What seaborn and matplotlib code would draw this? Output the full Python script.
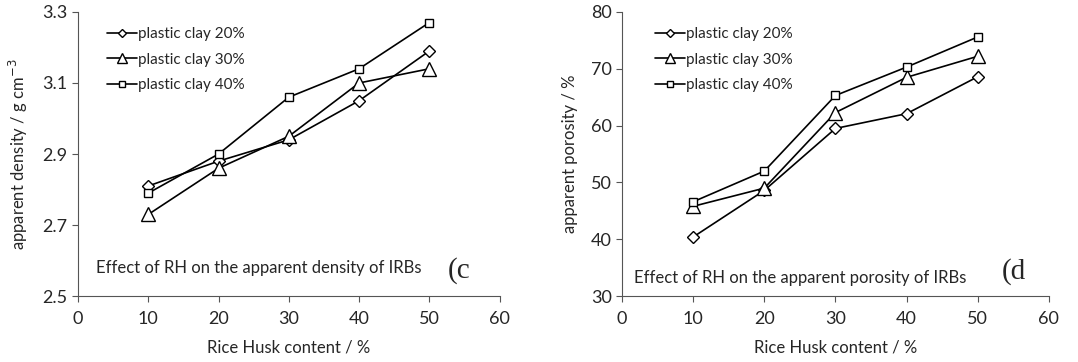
import pandas as pd
import matplotlib
matplotlib.use('Agg')
import matplotlib.pyplot as plt
import seaborn as sns

rice_husk = [10, 20, 30, 40, 50]
clay_labels = ['plastic clay 20%', 'plastic clay 30%', 'plastic clay 40%']

density_20 = [2.81, 2.88, 2.94, 3.05, 3.19]
density_30 = [2.73, 2.86, 2.95, 3.10, 3.14]
density_40 = [2.79, 2.90, 3.06, 3.14, 3.27]

porosity_20 = [40.4, 48.6, 59.5, 62.1, 68.6]
porosity_30 = [45.8, 49.0, 62.3, 68.5, 72.2]
porosity_40 = [46.6, 52.0, 65.3, 70.3, 75.6]


def to_long(series):
    rows = []
    for label, vals in zip(clay_labels, series):
        for x, v in zip(rice_husk, vals):
            rows.append({'rh': x, 'value': v, 'clay': label})
    return pd.DataFrame(rows)


density_df = to_long([density_20, density_30, density_40])
porosity_df = to_long([porosity_20, porosity_30, porosity_40])

sns.set_style('ticks')
plt.rcParams['font.family'] = ['Lato', 'DejaVu Sans']

fig = plt.figure(figsize=(10.78, 3.62), dpi=100)
ax1 = fig.add_axes([0.0724, 0.182, 0.391, 0.785])
ax2 = fig.add_axes([0.577, 0.182, 0.396, 0.785])

# axes, data, y range, y ticks, y label, note, tag, note pos, tag pos, legend x
panels = [
    (ax1, density_df, (2.5, 3.3), [2.5, 2.7, 2.9, 3.1, 3.3], 'apparent density / g cm$^{-3}$',
     'Effect of RH on the apparent density of IRBs', '(c', (0.043, 0.10), (0.876, 0.09), 0.035),
    (ax2, porosity_df, (30, 80), [30, 40, 50, 60, 70, 80], 'apparent porosity / %',
     'Effect of RH on the apparent porosity of IRBs', '(d', (0.028, 0.063), (0.89, 0.085), 0.044),
]

# sizes per marker type (triangle drawn larger, like the original)
msize = {'D': 6.5, '^': 9.5, 's': 6}
leg_msize = {'D': 4.5, '^': 7, 's': 5}

for ax, df, ylim, yticks, ylabel, note, tag, note_xy, tag_xy, leg_x in panels:
    sns.lineplot(data=df, x='rh', y='value', style='clay', markers=['D', '^', 's'],
                 dashes=False, color='black', linewidth=1.2,
                 markerfacecolor='white', markeredgecolor='black', markeredgewidth=1.0,
                 ax=ax)
    for ln in ax.lines:
        m = ln.get_marker()
        if m in msize:
            ln.set_markersize(msize[m])
    ax.set_xlim(0, 60)
    ax.set_ylim(*ylim)
    ax.set_xticks([0, 10, 20, 30, 40, 50, 60])
    ax.set_yticks(yticks)
    if ylim[1] < 10:
        ax.set_yticklabels([f'{t:.1f}' for t in yticks])
    ax.tick_params(labelsize=13, length=4, width=0.8, color='#555555')
    ax.tick_params(axis='x', pad=7)
    ax.set_xlabel('Rice Husk content / %', fontsize=12, labelpad=9)
    ax.set_ylabel(ylabel, fontsize=12, labelpad=9)
    sns.despine(ax=ax)
    for s in ['left', 'bottom']:
        ax.spines[s].set_color('#555555')
        ax.spines[s].set_linewidth(0.8)
    ax.text(note_xy[0], note_xy[1], note, transform=ax.transAxes, fontsize=12, va='center')
    ax.text(tag_xy[0], tag_xy[1], tag, transform=ax.transAxes, fontsize=21,
            family='Liberation Serif', va='center')
    leg = ax.legend(loc='upper left', bbox_to_anchor=(leg_x, 0.995), frameon=False,
                    fontsize=11, handlelength=2.0, handletextpad=0.05, labelspacing=0.75)
    for h in leg.legend_handles:
        m = h.get_marker()
        if m in leg_msize:
            h.set_markersize(leg_msize[m])

fig.savefig('out.png', dpi=100)
